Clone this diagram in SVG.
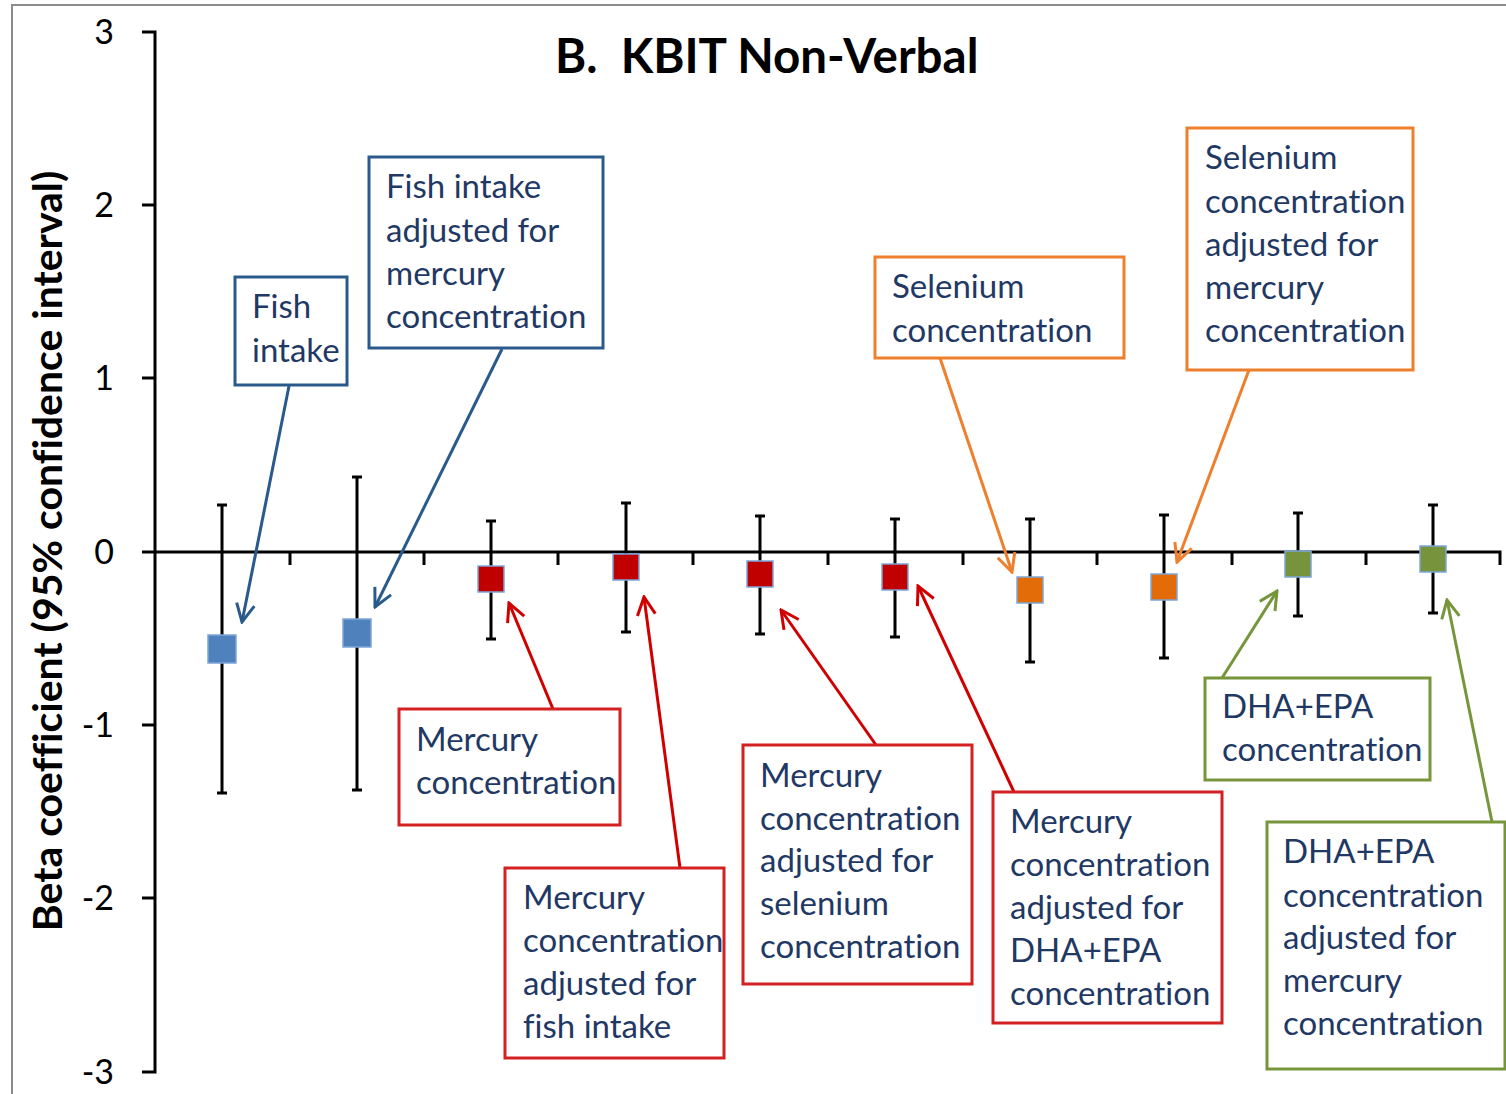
<svg xmlns="http://www.w3.org/2000/svg" width="1506" height="1094" viewBox="0 0 1506 1094">
<style>
text{font-variant-ligatures:none;font-feature-settings:"liga" 0,"clig" 0}
.lbl{font-family:Lato,"Open Sans",sans-serif;font-size:33px;fill:#1F3864}
.tick{font-family:Lato,"Open Sans",sans-serif;font-size:34px;fill:#000;text-anchor:end}
.ax{stroke:#000;stroke-width:3;fill:none}
.eb{stroke:#000;stroke-width:3;fill:none}
.bb{fill:#fff;stroke:#2A5A8C;stroke-width:3}
.rb{fill:#fff;stroke:#D42020;stroke-width:3}
.ob{fill:#fff;stroke:#EE7F2D;stroke-width:3}
.gb{fill:#fff;stroke:#77963C;stroke-width:3}
.pt{stroke:#7EA6D8;stroke-width:1.5}
</style>
<defs>
<marker id="ab" viewBox="0 0 22 22" refX="20" refY="11" markerWidth="22" markerHeight="22" markerUnits="userSpaceOnUse" orient="auto"><path d="M2,2 L20,11 L2,20" fill="none" stroke="#2A5A8C" stroke-width="3"/></marker>
<marker id="ar" viewBox="0 0 22 22" refX="20" refY="11" markerWidth="22" markerHeight="22" markerUnits="userSpaceOnUse" orient="auto"><path d="M2,2 L20,11 L2,20" fill="none" stroke="#D00000" stroke-width="3"/></marker>
<marker id="ao" viewBox="0 0 22 22" refX="20" refY="11" markerWidth="22" markerHeight="22" markerUnits="userSpaceOnUse" orient="auto"><path d="M2,2 L20,11 L2,20" fill="none" stroke="#EE7F2D" stroke-width="3"/></marker>
<marker id="ag" viewBox="0 0 22 22" refX="20" refY="11" markerWidth="22" markerHeight="22" markerUnits="userSpaceOnUse" orient="auto"><path d="M2,2 L20,11 L2,20" fill="none" stroke="#77963C" stroke-width="3"/></marker>
</defs>
<rect width="1506" height="1094" fill="#fff"/>
<path d="M12,1094 V5 H1506" fill="none" stroke="#8C8C8C" stroke-width="2"/>
<g id="title"><text x="555" y="73" font-family="Lato,'Open Sans',sans-serif" font-weight="bold" font-size="47.5" fill="#000">B.&#160; KBIT Non-Verbal</text></g>
<g id="yaxis">
<path class="ax" d="M142,32 H155 V1072 H142 M142,205 H155 M142,378 H155 M142,725 H155 M142,898 H155"/>
<text class="tick" x="114" y="44">3</text>
<text class="tick" x="114" y="217">2</text>
<text class="tick" x="114" y="390">1</text>
<text class="tick" x="114" y="564">0</text>
<text class="tick" x="114" y="737">-1</text>
<text class="tick" x="114" y="910">-2</text>
<text class="tick" x="114" y="1084">-3</text>
<text transform="translate(62,551) rotate(-90)" text-anchor="middle" font-family="Lato,'Open Sans',sans-serif" font-weight="bold" font-size="41" fill="#000">Beta coefficient (95% confidence interval)</text>
</g>
<g id="xaxis">
<path class="ax" d="M142,552 H1500 V565 M290,552 V565 M424,552 V565 M558,552 V565 M693,552 V565 M828,552 V565 M963,552 V565 M1097,552 V565 M1232,552 V565 M1366,552 V565"/>
</g>
<g id="errorbars">
<path class="eb" d="M222,505 V793 M217,505 H227 M217,793 H227"/>
<path class="eb" d="M357,477 V790 M352,477 H362 M352,790 H362"/>
<path class="eb" d="M491,521 V639 M486,521 H496 M486,639 H496"/>
<path class="eb" d="M626,503 V632 M621,503 H631 M621,632 H631"/>
<path class="eb" d="M760,516 V634 M755,516 H765 M755,634 H765"/>
<path class="eb" d="M895,519 V637 M890,519 H900 M890,637 H900"/>
<path class="eb" d="M1030,519 V662 M1025,519 H1035 M1025,662 H1035"/>
<path class="eb" d="M1164,515 V658 M1159,515 H1169 M1159,658 H1169"/>
<path class="eb" d="M1298,513 V616 M1293,513 H1303 M1293,616 H1303"/>
<path class="eb" d="M1433,505 V613 M1428,505 H1438 M1428,613 H1438"/>
</g>
<g id="points">
<rect class="pt" x="208" y="635" width="28" height="28" fill="#4F81BD"/>
<rect class="pt" x="343" y="619" width="28" height="28" fill="#4F81BD"/>
<rect class="pt" x="478" y="566" width="26" height="26" fill="#C00000"/>
<rect class="pt" x="613" y="554" width="26" height="26" fill="#C00000"/>
<rect class="pt" x="747" y="561" width="26" height="26" fill="#C00000"/>
<rect class="pt" x="882" y="564" width="26" height="26" fill="#C00000"/>
<rect class="pt" x="1017" y="577" width="26" height="26" fill="#E36C09"/>
<rect class="pt" x="1151" y="574" width="26" height="26" fill="#E36C09"/>
<rect class="pt" x="1285" y="551" width="26" height="26" fill="#77933C"/>
<rect class="pt" x="1420" y="546" width="26" height="26" fill="#77933C"/>
</g>
<g id="connectors" fill="none" stroke-width="3">
<line x1="289" y1="386" x2="242" y2="622" stroke="#2A5A8C" marker-end="url(#ab)"/>
<line x1="502" y1="349" x2="375" y2="607" stroke="#2A5A8C" marker-end="url(#ab)"/>
<line x1="553" y1="709" x2="509" y2="603" stroke="#D00000" marker-end="url(#ar)"/>
<line x1="680" y1="868" x2="644" y2="597" stroke="#D00000" marker-end="url(#ar)"/>
<line x1="876" y1="745" x2="781" y2="610" stroke="#D00000" marker-end="url(#ar)"/>
<line x1="1014" y1="792" x2="918" y2="586" stroke="#D00000" marker-end="url(#ar)"/>
<line x1="940" y1="358" x2="1012" y2="572" stroke="#EE7F2D" marker-end="url(#ao)"/>
<line x1="1249" y1="370" x2="1177" y2="562" stroke="#EE7F2D" marker-end="url(#ao)"/>
<line x1="1222" y1="678" x2="1277" y2="591" stroke="#77963C" marker-end="url(#ag)"/>
<line x1="1492" y1="822" x2="1447" y2="600" stroke="#77963C" marker-end="url(#ag)"/>
</g>
<g id="n-fish"><rect class="bb" x="235" y="277" width="112" height="108"/>
<text class="lbl" x="252" y="318">Fish</text><text class="lbl" x="252" y="362">intake</text></g>
<g id="n-fish-adj"><rect class="bb" x="369" y="157" width="234" height="191"/>
<text class="lbl" x="386" y="198">Fish intake</text><text class="lbl" x="386" y="242">adjusted for</text><text class="lbl" x="386" y="285">mercury</text><text class="lbl" x="386" y="328">concentration</text></g>
<g id="n-se"><rect class="ob" x="875" y="257" width="249" height="101"/>
<text class="lbl" x="892" y="298">Selenium</text><text class="lbl" x="892" y="342">concentration</text></g>
<g id="n-se-adj"><rect class="ob" x="1187" y="128" width="226" height="242"/>
<text class="lbl" x="1205" y="169">Selenium</text><text class="lbl" x="1205" y="213">concentration</text><text class="lbl" x="1205" y="256">adjusted for</text><text class="lbl" x="1205" y="299">mercury</text><text class="lbl" x="1205" y="342">concentration</text></g>
<g id="n-hg"><rect class="rb" x="399" y="709" width="221" height="116"/>
<text class="lbl" x="416" y="751">Mercury</text><text class="lbl" x="416" y="794">concentration</text></g>
<g id="n-hg-fish"><rect class="rb" x="505" y="868" width="219" height="190"/>
<text class="lbl" x="523" y="909">Mercury</text><text class="lbl" x="523" y="952">concentration</text><text class="lbl" x="523" y="995">adjusted for</text><text class="lbl" x="523" y="1038">fish intake</text></g>
<g id="n-hg-se"><rect class="rb" x="743" y="745" width="229" height="239"/>
<text class="lbl" x="760" y="787">Mercury</text><text class="lbl" x="760" y="830">concentration</text><text class="lbl" x="760" y="872">adjusted for</text><text class="lbl" x="760" y="915">selenium</text><text class="lbl" x="760" y="958">concentration</text></g>
<g id="n-hg-dha"><rect class="rb" x="993" y="792" width="229" height="231"/>
<text class="lbl" x="1010" y="833">Mercury</text><text class="lbl" x="1010" y="876">concentration</text><text class="lbl" x="1010" y="919">adjusted for</text><text class="lbl" x="1010" y="962">DHA+EPA</text><text class="lbl" x="1010" y="1005">concentration</text></g>
<g id="n-dha"><rect class="gb" x="1205" y="678" width="225" height="102"/>
<text class="lbl" x="1222" y="718">DHA+EPA</text><text class="lbl" x="1222" y="761">concentration</text></g>
<g id="n-dha-adj"><rect class="gb" x="1267" y="822" width="238" height="247"/>
<text class="lbl" x="1283" y="863">DHA+EPA</text><text class="lbl" x="1283" y="907">concentration</text><text class="lbl" x="1283" y="949">adjusted for</text><text class="lbl" x="1283" y="992">mercury</text><text class="lbl" x="1283" y="1035">concentration</text></g>
</svg>
